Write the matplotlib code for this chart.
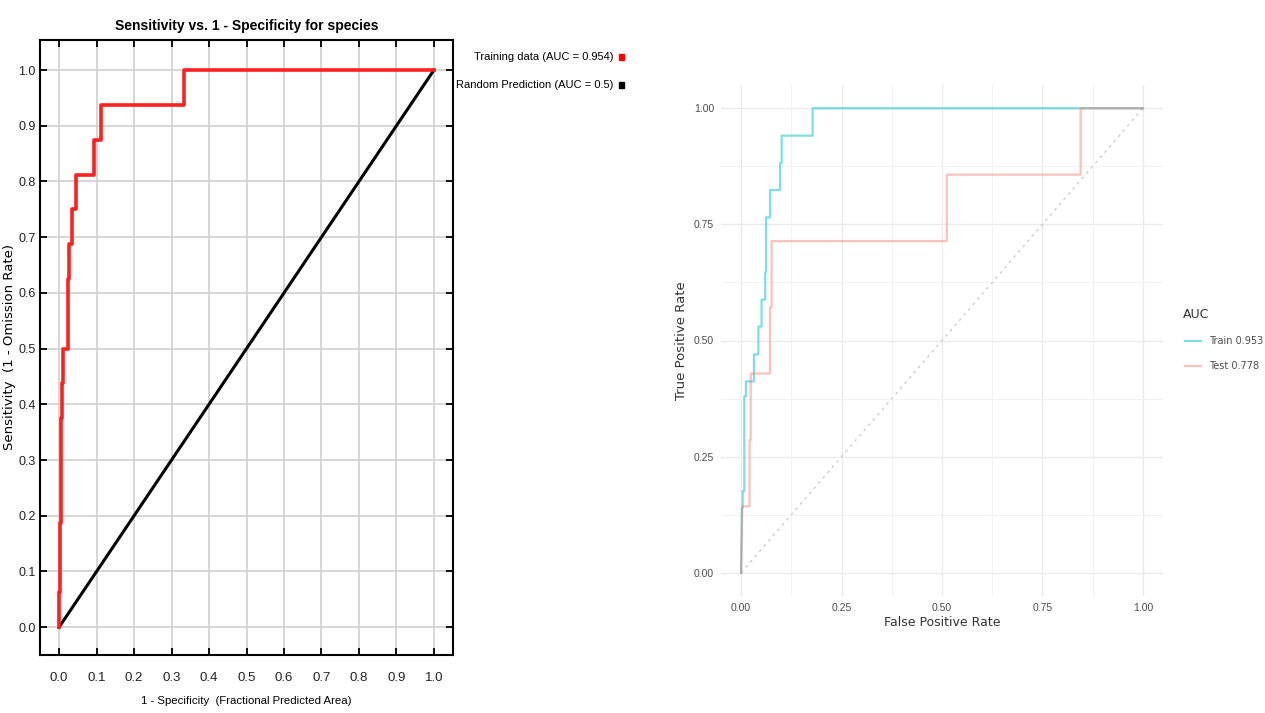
import matplotlib
matplotlib.use("Agg")
import matplotlib.pyplot as plt
import numpy as np

plt.rcParams['font.family'] = ['Liberation Sans', 'DejaVu Sans']

# left panel: Maxent ROC (training data)
maxent_fpr = [0, 0, 0.003, 0.003, 0.005, 0.005, 0.008, 0.008, 0.011, 0.011, 0.025, 0.025,
              0.027, 0.027, 0.035, 0.035, 0.045, 0.045, 0.092, 0.092, 0.111, 0.111,
              0.333, 0.333, 1.0]
maxent_tpr = [0, 0.0625, 0.0625, 0.1875, 0.1875, 0.375, 0.375, 0.4375, 0.4375, 0.5, 0.5, 0.625,
              0.625, 0.6875, 0.6875, 0.75, 0.75, 0.8125, 0.8125, 0.875, 0.875, 0.9375,
              0.9375, 1.0, 1.0]
random_line = [0, 1]
left_ticks = [round(v, 1) for v in np.arange(0, 1.01, 0.1)]
legend_left = ["Training data (AUC = 0.954)", "Random Prediction (AUC = 0.5)"]

# right panel: train / test ROC
train_fpr = [0, 0.002, 0.004, 0.004, 0.008, 0.008, 0.012, 0.012, 0.032, 0.032, 0.043, 0.043,
             0.051, 0.051, 0.06, 0.06, 0.062, 0.062, 0.072, 0.072, 0.097, 0.097, 0.101,
             0.101, 0.178, 0.178, 1.0]
train_tpr = [0, 0.14, 0.14, 0.176, 0.176, 0.38, 0.38, 0.412, 0.412, 0.47, 0.47, 0.53,
             0.53, 0.588, 0.588, 0.647, 0.647, 0.765, 0.765, 0.824, 0.824, 0.882, 0.882,
             0.941, 0.941, 1.0, 1.0]
test_fpr = [0, 0.003, 0.021, 0.021, 0.024, 0.024, 0.072, 0.072, 0.076, 0.076, 0.512, 0.512,
            0.845, 0.845, 1.0]
test_tpr = [0, 0.143, 0.143, 0.286, 0.286, 0.429, 0.429, 0.571, 0.571, 0.714, 0.714, 0.857,
            0.857, 1.0, 1.0]
right_ticks = [0, 0.25, 0.5, 0.75, 1.0]
right_labels = ["0.00", "0.25", "0.50", "0.75", "1.00"]
legend_right = ["Train 0.953", "Test 0.778"]

fig = plt.figure(figsize=(12.65, 7.13), dpi=100)

# ---- left chart ----
ax = fig.add_axes([40 / 1265, 58 / 713, 413 / 1265, 615 / 713])
ax.plot(random_line, random_line, color='black', lw=2.2)
ax.plot(maxent_fpr, maxent_tpr, color='#ff2020', lw=2.6)
ax.set_xlim(-0.051, 1.051)
ax.set_ylim(-0.05, 1.054)
ax.set_xticks(left_ticks)
ax.set_yticks(left_ticks)
ax.set_xticklabels(["%.1f" % v for v in left_ticks])
ax.set_yticklabels(["%.1f" % v for v in left_ticks])
ax.grid(True, color='#d0d0d0', lw=1.2)
ax.set_axisbelow(True)
ax.tick_params(direction='in', length=5, width=1.3, top=True, right=True,
               labelsize=9.5, labelcolor='#222222')
ax.tick_params(axis='x', pad=12)
ax.tick_params(axis='y', pad=3, labelsize=9)
for s in ax.spines.values():
    s.set_linewidth(1.5)
ax.set_title("Sensitivity vs. 1 - Specificity for species", fontsize=10,
             fontweight='bold', pad=7)
ax.set_xlabel("1 - Specificity  (Fractional Predicted Area)", fontsize=8.2, labelpad=9)
ax.set_ylabel("Sensitivity  (1 - Omission Rate)", fontsize=9.5, family=['DejaVu Sans'])
ax.yaxis.set_label_coords(-0.057, 0.5)

fig.text(613 / 1265, 1 - 57 / 713, legend_left[0], ha='right', va='center', fontsize=8)
fig.text(613 / 1265, 1 - 85 / 713, legend_left[1], ha='right', va='center', fontsize=8)
fig.patches.append(plt.Rectangle((619 / 1265, 1 - 60 / 713), 5 / 1265, 6 / 713,
                                 color='#ff0000', transform=fig.transFigure))
fig.patches.append(plt.Rectangle((619 / 1265, 1 - 88 / 713), 5 / 1265, 6 / 713,
                                 color='black', transform=fig.transFigure))

# ---- right chart ----
ax2 = fig.add_axes([721 / 1265, 117 / 713, 442 / 1265, 511 / 713])
ax2.plot(random_line, random_line, color='#cccccc', lw=1, ls=(0, (2, 3)))
ax2.plot(train_fpr, train_tpr, color='#00BFC4', alpha=0.5, lw=1.6)
ax2.plot(test_fpr, test_tpr, color='#F8766D', alpha=0.45, lw=1.6)
ax2.set_xlim(-0.05, 1.05)
ax2.set_ylim(-0.05, 1.05)
ax2.set_xticks(right_ticks)
ax2.set_yticks(right_ticks)
ax2.set_xticklabels(right_labels)
ax2.set_yticklabels(right_labels)
ax2.set_xticks([0.125, 0.375, 0.625, 0.875], minor=True)
ax2.set_yticks([0.125, 0.375, 0.625, 0.875], minor=True)
ax2.grid(True, which='major', color='#ebebeb', lw=1)
ax2.grid(True, which='minor', color='#f3f3f3', lw=0.8)
ax2.set_axisbelow(True)
for s in ax2.spines.values():
    s.set_visible(False)
ax2.tick_params(which='both', length=0, labelsize=7.5, labelcolor='#4d4d4d', pad=5)
ax2.set_xlabel("False Positive Rate", fontsize=9, color='#333333', labelpad=2,
               family=['DejaVu Sans'])
ax2.set_ylabel("True Positive Rate", fontsize=9.5, color='#333333', labelpad=4,
               family=['DejaVu Sans'])

fig.text(1183 / 1265, 1 - 314 / 713, "AUC", ha='left', va='center', fontsize=9,
         color='#333333', family=['DejaVu Sans'])
for i, (lab, col, a) in enumerate(zip(legend_right, ['#00BFC4', '#F8766D'], [0.5, 0.45])):
    yy = 1 - (341 + 25 * i) / 713
    fig.lines.append(plt.Line2D([1185 / 1265, 1201 / 1265], [yy, yy], color=col, alpha=a,
                                lw=1.6, transform=fig.transFigure))
    fig.text(1209 / 1265, yy, lab, ha='left', va='center', fontsize=7, color='#4d4d4d',
             family=['DejaVu Sans'])

fig.savefig("out.png", dpi=100)
